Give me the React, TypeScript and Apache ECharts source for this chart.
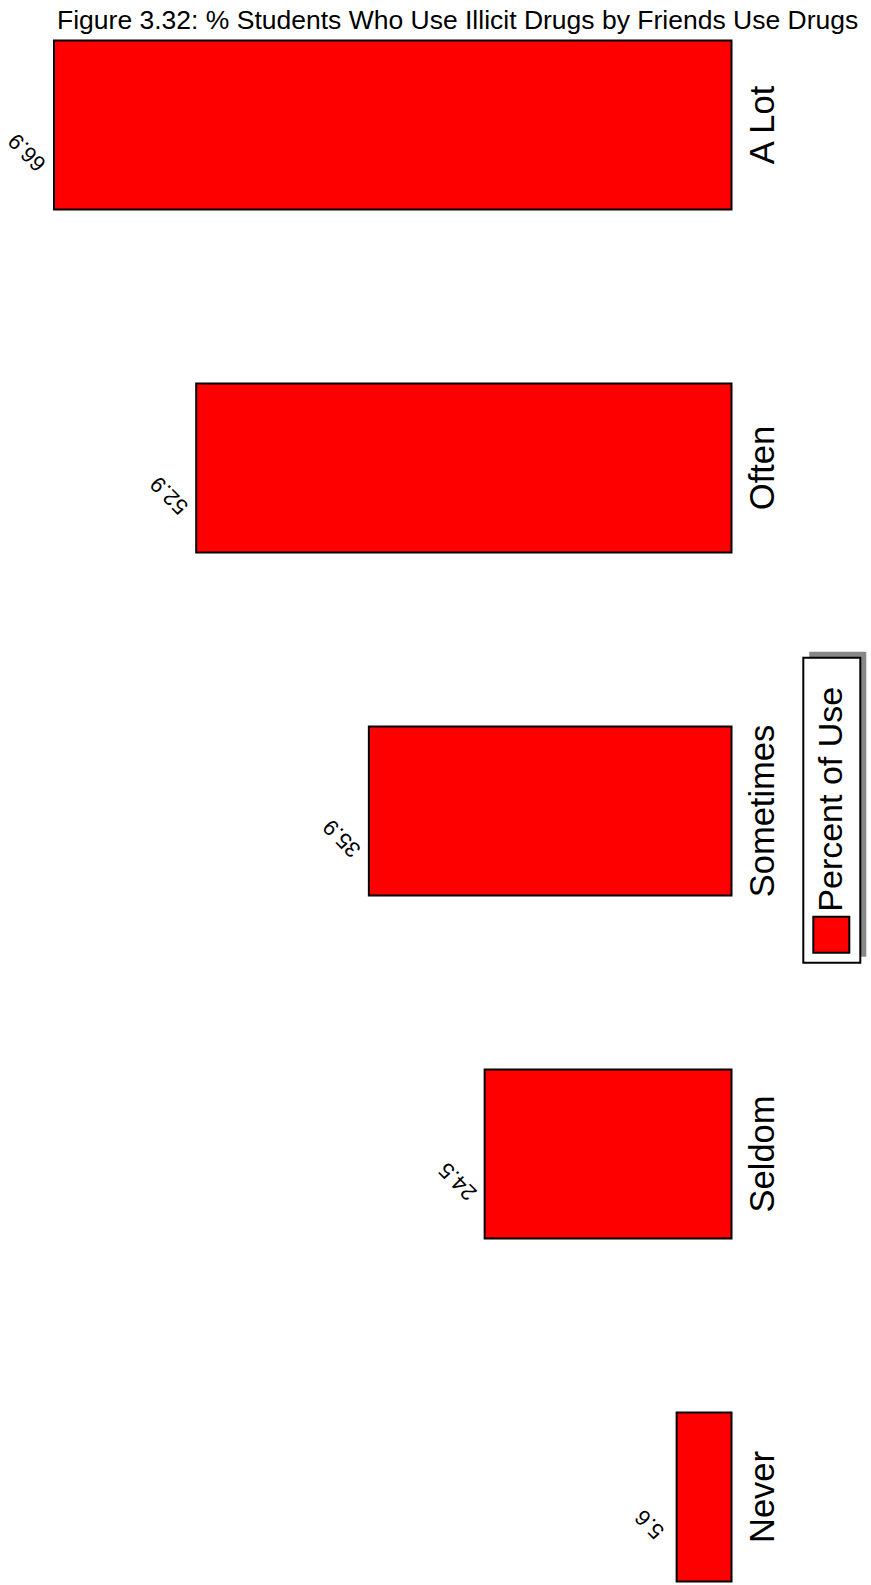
import React, { useEffect, useRef } from "react";
import * as echarts from "echarts";

const titleText = "Figure 3.32: % Students Who Use Illicit Drugs by Friends Use Drugs";
const categories = ["A Lot", "Often", "Sometimes", "Seldom", "Never"];
const values = [66.9, 52.9, 35.9, 24.5, 5.6];
const seriesName = "Percent of Use";

const FONT = "'Liberation Sans', Arial, Helvetica, sans-serif";

export default function App() {
  const ref = useRef<HTMLDivElement>(null);

  useEffect(() => {
    if (!ref.current) return;
    const chart = echarts.init(ref.current, null, { renderer: "svg" });
    chart.setOption({
      animation: false,
      backgroundColor: "#ffffff",
      textStyle: { fontFamily: FONT, color: "#000" },
      title: {
        text: titleText,
        left: 57,
        top: 6,
        padding: 0,
        textStyle: { fontSize: 26.5, fontWeight: "normal", color: "#000", fontFamily: FONT },
      },
      grid: { left: 21.5, right: 138.5, top: 125, bottom: 88, containLabel: false },
      xAxis: {
        type: "value",
        inverse: true,
        min: 0,
        max: 70,
        show: false,
        splitLine: { show: false },
      },
      yAxis: {
        type: "category",
        data: categories,
        inverse: true,
        position: "right",
        boundaryGap: false,
        axisLine: { show: false },
        axisTick: { show: false },
        splitLine: { show: false },
        axisLabel: {
          rotate: 90,
          interval: 0,
          fontSize: 34.5,
          margin: 12,
          color: "#000",
          fontFamily: FONT,
        },
      },
      series: [
        {
          name: seriesName,
          type: "bar",
          data: values,
          barWidth: 171,
          clip: false,
          itemStyle: { color: "#ff0000", borderColor: "#000", borderWidth: 2 },
          label: {
            show: true,
            position: "left",
            distance: 0,
            rotate: 135,
            align: "center",
            verticalAlign: "middle",
            offset: [-1, -38],
            fontSize: 22,
            color: "#000",
            fontFamily: FONT,
            formatter: "{c}",
          },
        },
      ],
      graphic: [
        {
          type: "group",
          x: 803.3,
          y: 962.7,
          rotation: Math.PI / 2,
          children: [
            { type: "rect", shape: { x: 6, y: 6, width: 305, height: 57 }, style: { fill: "#888888" } },
            {
              type: "rect",
              shape: { x: 0, y: 0, width: 305, height: 57 },
              style: { fill: "#ffffff", stroke: "#000", lineWidth: 2 },
            },
            {
              type: "rect",
              shape: { x: 10, y: 10, width: 36, height: 36 },
              style: { fill: "#ff0000", stroke: "#000", lineWidth: 2 },
            },
            {
              type: "text",
              x: 51,
              y: 27,
              style: {
                text: seriesName,
                fontSize: 34,
                fill: "#000",
                align: "left",
                verticalAlign: "middle",
                fontFamily: FONT,
              },
            },
          ],
        },
      ],
    });
    return () => chart.dispose();
  }, []);

  return (
    <div
      ref={ref}
      style={{ position: "absolute", left: 0, top: 0, width: 871, height: 1585 }}
    />
  );
}
